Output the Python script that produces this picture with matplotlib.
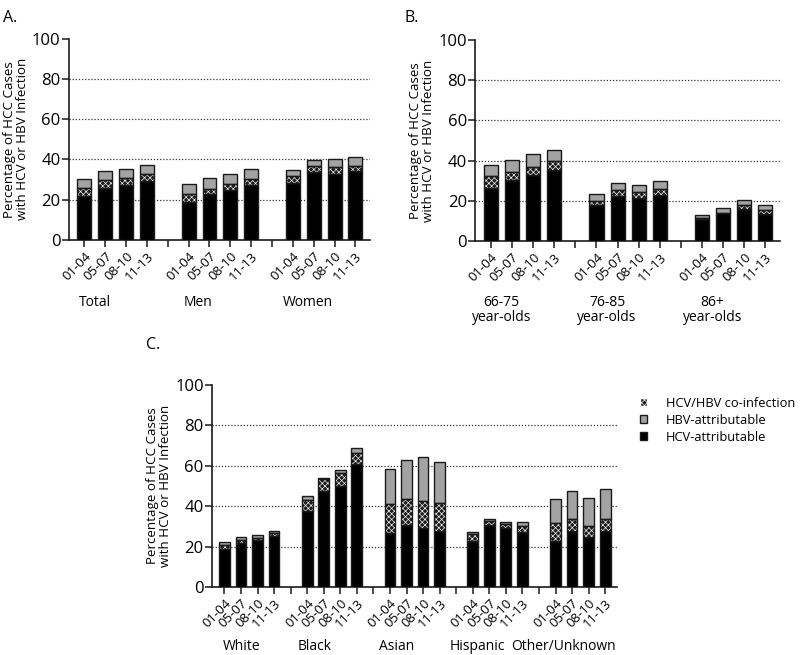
import numpy as np
import matplotlib.pyplot as plt
from matplotlib.patches import Patch

plt.rcParams['font.family'] = ['Open Sans', 'DejaVu Sans']
plt.rcParams['hatch.linewidth'] = 0.45

periods = ["01-04", "05-07", "08-10", "11-13"]

# Panel A: Total, Men, Women
groups_a = ["Total", "Men", "Women"]
hcv_a = [21.7, 25.8, 27.0, 29.2, 18.8, 22.5, 24.5, 27.0, 28.3, 33.7, 32.8, 34.2]
co_a = [4.1, 3.7, 3.5, 3.3, 4.0, 2.8, 3.0, 3.3, 3.2, 3.0, 3.5, 2.6]
hbv_a = [4.2, 4.5, 4.8, 4.7, 4.7, 5.5, 5.3, 4.9, 3.3, 3.1, 4.0, 4.5]

# Panel B: age groups
groups_b = ["66-75\nyear-olds", "76-85\nyear-olds", "86+\nyear-olds"]
hcv_b = [26.3, 30.3, 32.7, 35.5, 17.7, 22.2, 21.3, 23.0, 11.0, 13.8, 15.8, 13.5]
co_b = [5.9, 4.0, 4.1, 4.2, 2.3, 3.0, 3.0, 2.7, 0.3, 0.3, 1.9, 1.7]
hbv_b = [5.5, 6.0, 6.4, 5.5, 3.2, 3.5, 3.7, 4.3, 1.7, 2.4, 2.5, 2.5]

# Panel C: race / ethnicity
groups_c = ["White", "Black", "Asian", "Hispanic", "Other/Unknown"]
hcv_c = [19.0, 21.7, 23.0, 25.0, 37.4, 47.5, 50.0, 60.9, 26.5, 30.7, 29.3, 27.7,
         22.9, 30.6, 29.3, 27.0, 22.5, 27.9, 24.5, 27.7]
co_c = [1.6, 1.3, 1.4, 1.5, 5.5, 5.8, 6.5, 5.3, 14.5, 13.1, 13.3, 13.8,
        3.1, 2.0, 2.1, 3.1, 9.4, 5.8, 5.9, 6.0]
hbv_c = [1.4, 1.6, 1.2, 1.2, 2.1, 0.9, 1.5, 2.5, 17.2, 19.0, 21.7, 20.5,
         1.2, 0.9, 0.7, 2.3, 11.6, 13.6, 13.8, 14.9]

HBV_COLOR = "#a3a3a3"
EDGE = "#1a1a1a"
HATCH = "xxxxxx"
CO_FACE = "#1c1c1c"


def draw_panel(ax, groups, hcv, co, hbv, width, label_offsets, label_y):
    n = len(groups)
    pos = np.concatenate([np.arange(4) + 5 * g for g in range(n)])
    hcv = np.array(hcv)
    co = np.array(co)
    hbv = np.array(hbv)
    ax.bar(pos, hcv, width, color="black", edgecolor=EDGE, linewidth=1.0, zorder=3)
    # co-infection: dark with fine white checker hatch, outline drawn on top
    ax.bar(pos, co, width, bottom=hcv, color=CO_FACE, edgecolor="white",
           hatch=HATCH, linewidth=0, zorder=3)
    ax.bar(pos, co, width, bottom=hcv, facecolor="none", edgecolor=EDGE,
           linewidth=1.0, zorder=4)
    ax.bar(pos, hbv, width, bottom=hcv + co, color=HBV_COLOR, edgecolor=EDGE,
           linewidth=1.0, zorder=3)

    ax.set_ylim(0, 100)
    ax.set_xlim(-0.75, pos[-1] + 0.7)
    ax.set_yticks([0, 20, 40, 60, 80, 100])
    for y in [20, 40, 60, 80]:
        ax.axhline(y, color="#333333", linestyle=(0, (1, 1.5)), linewidth=0.9, zorder=1)

    gaps = [5 * g + 4 for g in range(n - 1)]
    ticks = list(pos) + gaps
    labels = periods * n + [""] * len(gaps)
    ax.set_xticks(ticks)
    ax.set_xticklabels(labels, rotation=45, ha="right", rotation_mode="anchor",
                       fontsize=9.5)
    ax.tick_params(axis="x", length=5, width=1.1, color=EDGE, pad=2)
    ax.tick_params(axis="y", length=5, width=1.1, color=EDGE, labelsize=12, pad=1)
    for s in ["top", "right"]:
        ax.spines[s].set_visible(False)
    for s in ["left", "bottom"]:
        ax.spines[s].set_linewidth(1.2)
        ax.spines[s].set_color(EDGE)
    ax.set_ylabel("Percentage of HCC Cases\nwith HCV or HBV Infection",
                  fontsize=9.6, linespacing=1.05, labelpad=2)

    for g, name in enumerate(groups):
        ax.text(5 * g + label_offsets[g], label_y, name, transform=ax.get_xaxis_transform(),
                ha="center", va="top", fontsize=10, linespacing=1.0)
    return pos


fig = plt.figure(figsize=(8, 6.55), dpi=100)

ax_a = fig.add_axes([0.086, 0.634, 0.3765, 0.307])
draw_panel(ax_a, groups_a, hcv_a, co_a, hbv_a, 0.67, [0.5, 0.45, 0.7], -0.275)

ax_b = fig.add_axes([0.594, 0.632, 0.381, 0.307])
draw_panel(ax_b, groups_b, hcv_b, co_b, hbv_b, 0.67, [0.5, 0.5, 0.5], -0.27)

ax_c = fig.add_axes([0.265, 0.104, 0.506, 0.308])
draw_panel(ax_c, groups_c, hcv_c, co_c, hbv_c, 0.65, [1.05, 0.45, 0.4, 0.3, 0.5], -0.258)

handles = [
    Patch(facecolor=CO_FACE, edgecolor="white", hatch=HATCH, label="HCV/HBV co-infection"),
    Patch(facecolor=HBV_COLOR, edgecolor=EDGE, label="HBV-attributable"),
    Patch(facecolor="black", edgecolor=EDGE, label="HCV-attributable"),
]
fig.legend(handles=handles, loc="upper left", bbox_to_anchor=(0.793, 0.402),
           frameon=False, fontsize=9.3, handlelength=0.55, handleheight=0.55,
           handletextpad=1.5, labelspacing=0.3, borderaxespad=0)

fig.text(0.004, 0.984, "A.", fontsize=11.5, va="top")
fig.text(0.506, 0.984, "B.", fontsize=11.5, va="top")
fig.text(0.183, 0.485, "C.", fontsize=11.5, va="top")

fig.savefig("out.png", dpi=100)
